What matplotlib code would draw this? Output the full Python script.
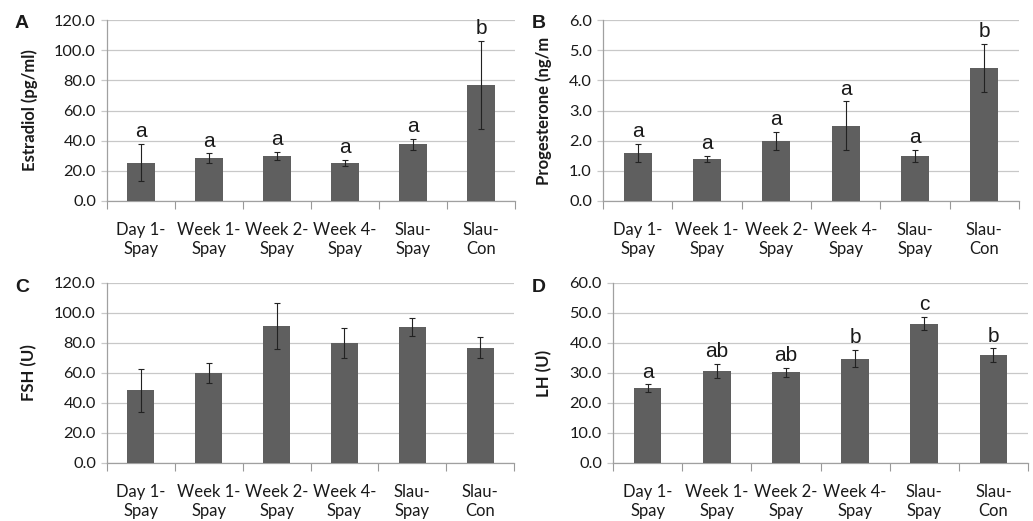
import matplotlib
matplotlib.use("Agg")
import matplotlib.pyplot as plt
import numpy as np

categories = ["Day 1-\nSpay", "Week 1-\nSpay", "Week 2-\nSpay", "Week 4-\nSpay", "Slau-\nSpay", "Slau-\nCon"]

estradiol = [25.5, 28.5, 30.0, 25.0, 37.5, 77.0]
estradiol_err = [12.5, 3.0, 2.5, 2.0, 3.5, 29.0]
estradiol_sig = ["a", "a", "a", "a", "a", "b"]

progesterone = [1.6, 1.4, 2.0, 2.5, 1.5, 4.4]
progesterone_err = [0.3, 0.1, 0.3, 0.8, 0.2, 0.8]
progesterone_sig = ["a", "a", "a", "a", "a", "b"]

fsh = [48.5, 60.0, 91.5, 80.0, 91.0, 77.0]
fsh_err = [14.5, 6.5, 15.5, 10.0, 6.0, 7.0]

lh = [25.0, 30.8, 30.2, 34.8, 46.5, 36.0]
lh_err = [1.2, 2.3, 1.5, 2.9, 2.3, 2.2]
lh_sig = ["a", "ab", "ab", "b", "c", "b"]

W, H = 1033, 521
fig = plt.figure(figsize=(W / 100, H / 100), dpi=100)

TICK_FONT = "Lato"
BAR_COLOR = "#5f5f5f"
GRID = "#c8c8c8"

panels = [
    dict(rect=(107, 20, 515, 201), vals=estradiol, err=estradiol_err, sig=estradiol_sig,
         ymax=120, step=20, ylabel="Estradiol (pg/ml)", letter="A", lx=22, ylx=30),
    dict(rect=(603, 20, 1019, 201), vals=progesterone, err=progesterone_err, sig=progesterone_sig,
         ymax=6, step=1, ylabel="Progesterone (ng/m", letter="B", lx=539, ylx=544),
    dict(rect=(107, 283, 514, 463), vals=fsh, err=fsh_err, sig=None,
         ymax=120, step=20, ylabel="FSH (U)", letter="C", lx=22, ylx=29),
    dict(rect=(613, 283, 1028, 463), vals=lh, err=lh_err, sig=lh_sig,
         ymax=60, step=10, ylabel="LH (U)", letter="D", lx=539, ylx=544),
]

x = np.arange(len(categories))
for p in panels:
    l, t, r, b = p["rect"]
    ax = fig.add_axes([l / W, 1 - b / H, (r - l) / W, (b - t) / H])
    ax.bar(x, p["vals"], width=0.4, color=BAR_COLOR, zorder=3)
    ax.errorbar(x, p["vals"], yerr=p["err"], fmt="none", ecolor="#222222",
                elinewidth=0.8, capsize=2.5, capthick=0.8, zorder=4)
    ax.set_xlim(-0.5, len(categories) - 0.5)
    ax.set_ylim(0, p["ymax"])
    yt = np.arange(0, p["ymax"] + p["step"] / 2, p["step"])
    ax.set_yticks(yt)
    ax.set_yticklabels([f"{v:.1f}" for v in yt], fontfamily=TICK_FONT, fontsize=11.8, color="#1a1a1a")
    ax.tick_params(axis="y", length=4, width=0.9, color=GRID, pad=4)
    ax.set_xticks(x)
    ax.set_xticklabels(categories, fontfamily=TICK_FONT, fontsize=12, color="#1a1a1a", linespacing=1.25)
    ax.set_xticks(np.arange(-0.5, len(categories)), minor=True)
    ax.tick_params(axis="x", which="major", length=0, pad=15)
    ax.tick_params(axis="x", which="minor", length=6, width=0.8, color="#999999", direction="out")
    ax.grid(axis="y", color=GRID, linewidth=0.9, zorder=0)
    ax.set_axisbelow(True)
    for s in ["top", "right"]:
        ax.spines[s].set_visible(False)
    for s in ["left", "bottom"]:
        ax.spines[s].set_color("#a0a0a0")
        ax.spines[s].set_linewidth(0.9)
    fig.text(p["ylx"] / W, 1 - ((t + b) / 2) / H, p["ylabel"], rotation=90, ha="center", va="center",
             fontfamily=TICK_FONT, fontweight="bold", fontsize=12, color="#1a1a1a")
    fig.text(p["lx"] / W, 1 - 24 / H if t < 100 else 1 - 287 / H, p["letter"], ha="center", va="center",
             fontfamily="Liberation Sans", fontweight="bold", fontsize=14, color="#1a1a1a")
    if p["sig"]:
        for xi, v, e, s in zip(x, p["vals"], p["err"], p["sig"]):
            ax.annotate(s, (xi, v + e), xytext=(0, 2), textcoords="offset points",
                        ha="center", va="bottom", fontfamily="Liberation Sans", fontsize=15,
                        color="#1a1a1a", annotation_clip=False)

fig.savefig("out.png", dpi=100)
